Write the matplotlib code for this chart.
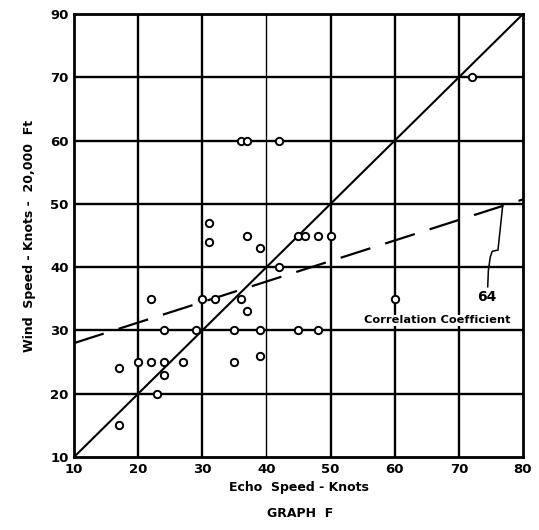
import matplotlib
matplotlib.use("Agg")
import matplotlib.pyplot as plt
import numpy as np

# Echo speed vs. wind speed at 20,000 ft (knots)
echo_speed = [17, 17, 20, 22, 24, 27, 24, 23, 22, 24, 29, 30, 32, 31, 31,
              35, 36, 37, 35, 39, 39, 37, 39, 42, 45, 46, 48, 50, 45, 48,
              60, 36, 37, 42, 72]
wind_speed = [15, 24, 25, 25, 25, 25, 23, 20, 35, 30, 30, 35, 35, 44, 47,
              30, 35, 33, 25, 26, 30, 45, 43, 40, 45, 45, 45, 45, 30, 30,
              35, 60, 60, 60, 70]

# Regression line end points
regression_x = [10, 80]
regression_y = [28, 50.7]

# Leader from the coefficient label up to the regression line
leader_x = [74.5, 74.6, 74.9, 75.2, 76.1, 76.8]
leader_y = [36.9, 39.5, 41.6, 42.5, 42.7, 49.4]

x_ticks = [10, 20, 30, 40, 50, 60, 70, 80]
y_ticks = [10, 20, 30, 40, 50, 60, 70, 80]
x_tick_labels = ["10", "20", "30", "40", "50", "60", "70", "80"]
y_tick_labels = ["10", "20", "30", "40", "50", "60", "70", "90"]

fig = plt.figure(figsize=(5.39, 5.30), dpi=100)
ax = fig.add_axes([0.1373, 0.1377, 0.8330, 0.8359])
ax.set_xlim(10, 80)
ax.set_ylim(10, 80)

# Heavy grid
for xv in x_ticks[1:-1]:
    lw = 1.0 if xv == 40 else 1.7
    ax.axvline(xv, color="black", lw=lw, zorder=1)
for yv in y_ticks[1:-1]:
    ax.axhline(yv, color="black", lw=1.7, zorder=1)

for s in ax.spines.values():
    s.set_linewidth(2.0)
    s.set_color("black")

# Line of perfect agreement
ax.plot([10, 80], [10, 80], color="black", lw=1.5, zorder=2)

# Regression line
ax.plot(regression_x, regression_y, color="black", lw=1.6,
        dashes=(14, 7), zorder=2)

ax.plot(leader_x, leader_y, color="black", lw=1.1, zorder=2)

ax.scatter(echo_speed, wind_speed, s=28, facecolor="white",
           edgecolor="black", linewidths=1.4, zorder=3)

ax.text(74.3, 35.3, "64", fontsize=10, ha="center", va="center",
        fontweight="bold", zorder=4)
ax.text(66.6, 31.6, "Correlation Coefficient", fontsize=8.2,
        ha="center", va="center", fontweight="bold",
        bbox=dict(facecolor="white", edgecolor="none", pad=0.5), zorder=4)

ax.set_xticks(x_ticks)
ax.set_xticklabels(x_tick_labels)
ax.set_yticks(y_ticks)
ax.set_yticklabels(y_tick_labels)
ax.tick_params(length=0, labelsize=9.5, pad=4)
for lab in ax.get_xticklabels() + ax.get_yticklabels():
    lab.set_fontweight("bold")

ax.set_xlabel("Echo  Speed - Knots", fontsize=9, fontweight="bold", labelpad=4)
ax.set_ylabel("Wind  Speed - Knots -  20,000  Ft", fontsize=9,
              fontweight="bold", labelpad=10)
fig.text(0.557, 0.018, "GRAPH  F", fontsize=9, fontweight="bold",
         ha="center", va="bottom")

fig.savefig("out.png", dpi=100, facecolor="white")
